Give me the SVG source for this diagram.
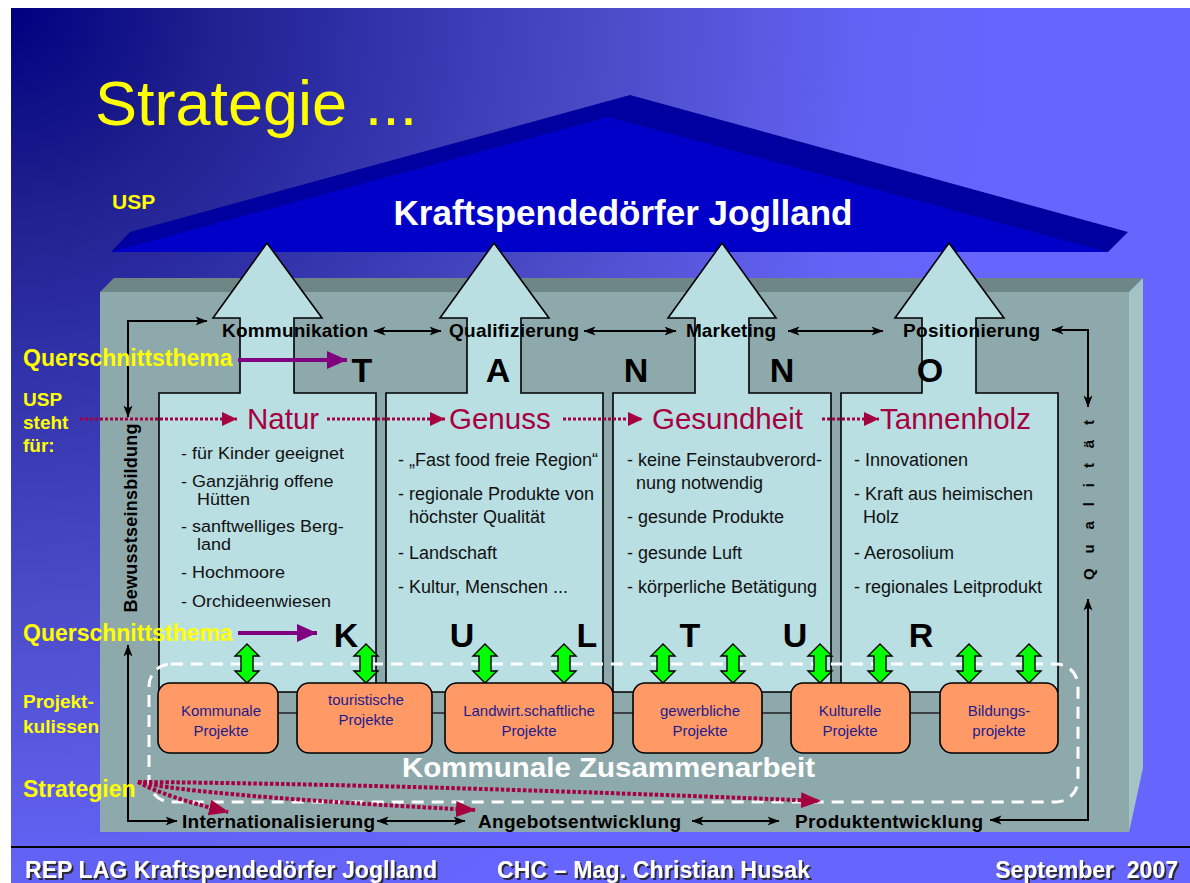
<svg xmlns="http://www.w3.org/2000/svg" width="1190" height="883" viewBox="0 0 1190 883">
<defs>
<radialGradient id="bg" gradientUnits="userSpaceOnUse" cx="11" cy="8" r="1000">
<stop offset="0" stop-color="#000080"/>
<stop offset="0.2" stop-color="#20208E"/>
<stop offset="0.35" stop-color="#3030A8"/>
<stop offset="0.6" stop-color="#4C4CC8"/>
<stop offset="0.85" stop-color="#6262F4"/>
<stop offset="1" stop-color="#6666FF"/>
</radialGradient>
<marker id="ab" viewBox="0 0 12 10" refX="11.5" refY="5" markerWidth="12" markerHeight="10" markerUnits="userSpaceOnUse" orient="auto-start-reverse"><path d="M0,0.5 L12,5 L0,9.5 L3,5 Z" fill="#000"/></marker>
<marker id="ar" viewBox="0 0 15 14" refX="15" refY="7" markerWidth="15" markerHeight="14" markerUnits="userSpaceOnUse" orient="auto"><path d="M0,0 L15,7 L0,14 Z" fill="#A50040"/></marker>
<marker id="as" viewBox="0 0 20 16" refX="19" refY="8" markerWidth="20" markerHeight="16" markerUnits="userSpaceOnUse" orient="auto"><path d="M0,0 L20,8 L0,16 Z" fill="#A50040"/></marker>
<marker id="ap" viewBox="0 0 20 18" refX="20" refY="9" markerWidth="20" markerHeight="18" markerUnits="userSpaceOnUse" orient="auto"><path d="M0,0 L20,9 L0,18 Z" fill="#800080"/></marker>
<path id="ga" d="M0,0 L12,12 L6,12 L6,27 L12,27 L0,39 L-12,27 L-6,27 L-6,12 L-12,12 Z"/>
<filter id="sh" x="-5%" y="-40%" width="110%" height="180%"><feDropShadow dx="2" dy="2" stdDeviation="0.6" flood-color="#202020" flood-opacity="0.9"/></filter>
</defs>
<style>
text{font-family:"Liberation Sans",Arial,sans-serif}
.col{fill:#B9DFE3;stroke:#000;stroke-width:1.6}
.li{font-size:18px;fill:#111}
.ln{font-size:16.5px;fill:#111}
.usp{font-size:29.5px;fill:#A50040}
.lab{font-size:19px;font-weight:bold;fill:#000}
.big{font-size:34px;font-weight:bold;fill:#000;text-anchor:middle}
.y{fill:#FFFF00;font-weight:bold}
.pb{fill:#FF9966;stroke:#000;stroke-width:1.6}
.pt{font-size:15px;fill:#1C1C8C;text-anchor:middle}
.k{fill:none;stroke:#000;stroke-width:2;marker-start:url(#ab);marker-end:url(#ab)}
.dr{fill:none;stroke:#A50040;stroke-width:3;stroke-dasharray:3 2;marker-end:url(#ar)}
.ds{fill:none;stroke:#A50040;stroke-width:4;stroke-dasharray:3.5 2;marker-end:url(#as)}
.pp{fill:none;stroke:#800080;stroke-width:4;marker-end:url(#ap)}
.g{fill:#00FF00;stroke:#000;stroke-width:1.4}
.ft{font-size:23px;font-weight:bold;fill:#fff;filter:url(#sh)}
</style>

<rect width="1190" height="883" fill="#fff"/>
<rect x="11" y="8" width="1179" height="875" fill="url(#bg)"/>

<g id="title"><text x="95" y="125" style="font-size:63px;fill:#FFFF00">Strategie ...</text></g>
<g id="usp-label"><text x="112" y="209" class="y" style="font-size:21px">USP</text></g>

<g id="roof">
<polygon points="111,252 130,232 630,95 1128,232 1108,252" fill="#0000A0"/>
<polygon points="111,252 608,117 1108,252" fill="#0000C8"/>
<text x="623" y="225" style="font-size:35px;font-weight:bold;fill:#fff;text-anchor:middle">Kraftspendedörfer Joglland</text>
</g>

<g id="base">
<polygon points="100,292 114,278 1143,278 1129,292" fill="#6F8686"/>
<polygon points="1129,292 1143,278 1143,768 1129,832" fill="#A3C3C7"/>
<rect x="100" y="292" width="1029" height="540" fill="#8EA9AB"/>
</g>

<g id="col-natur">
<polygon class="col" points="159,692 159,393 240,393 240,318 213,318 267,243 322,318 294,318 294,393 376,393 376,692"/>
<g transform="translate(181,0) scale(1.09,1)">
<text class="ln" x="0" y="459">- für Kinder geeignet</text>
<text class="ln" x="0" y="487">- Ganzjährig offene</text>
<text class="ln" x="14.7" y="505.5">Hütten</text>
<text class="ln" x="0" y="532">- sanftwelliges Berg-</text>
<text class="ln" x="14.7" y="550.5">land</text>
<text class="ln" x="0" y="578">- Hochmoore</text>
<text class="ln" x="0" y="607">- Orchideenwiesen</text>
</g>
</g>
<g id="col-genuss">
<polygon class="col" points="386,692 386,393 467,393 467,318 440,318 494,243 549,318 521,318 521,393 603,393 603,692"/>
<text class="li" x="398" y="466">- „Fast food freie Region“</text>
<text class="li" x="398" y="500">- regionale Produkte von</text>
<text class="li" x="409" y="523">höchster Qualität</text>
<text class="li" x="398" y="559">- Landschaft</text>
<text class="li" x="398" y="593">- Kultur, Menschen ...</text>
</g>
<g id="col-gesundheit">
<polygon class="col" points="613,692 613,393 695,393 695,318 668,318 722,243 776,318 749,318 749,393 831,393 831,692"/>
<text class="li" x="627" y="466">- keine Feinstaubverord-</text>
<text class="li" x="636" y="489">nung notwendig</text>
<text class="li" x="627" y="523">- gesunde Produkte</text>
<text class="li" x="627" y="559">- gesunde Luft</text>
<text class="li" x="627" y="593">- körperliche Betätigung</text>
</g>
<g id="col-tannenholz">
<polygon class="col" points="841,692 841,393 922,393 922,318 895,318 949,243 1004,318 976,318 976,393 1058,393 1058,692"/>
<text class="li" x="854" y="466">- Innovationen</text>
<text class="li" x="854" y="500">- Kraft aus heimischen</text>
<text class="li" x="863" y="523">Holz</text>
<text class="li" x="854" y="559">- Aerosolium</text>
<text class="li" x="854" y="593">- regionales Leitprodukt</text>
</g>

<g id="kommunale-zusammenarbeit">
<rect x="149" y="664" width="929" height="138" rx="22" fill="none" stroke="#fff" stroke-width="3" stroke-dasharray="12 8"/>
<text x="402" y="777" textLength="413" lengthAdjust="spacingAndGlyphs" style="font-size:27px;font-weight:bold;fill:#fff">Kommunale Zusammenarbeit</text>
</g>

<g id="connectors">
<line x1="278" y1="713" x2="940" y2="713" stroke="#222" stroke-width="1.5"/>
<path class="k" d="M128,417 V321 H207"/>
<path class="k" d="M128,645 V821 H177"/>
<path class="k" d="M1052,330 H1088 V407"/>
<path class="k" d="M1088,599 V820 H990"/>
<path class="k" d="M374,331 H441"/>
<path class="k" d="M584,331 H676"/>
<path class="k" d="M788,331 H883"/>
<path class="k" d="M377,821 H465"/>
<path class="k" d="M692,821 H779"/>
<path class="dr" d="M80,419 H237"/>
<path class="dr" d="M327,419 H445"/>
<path class="dr" d="M563,419 H643"/>
<path class="dr" d="M822,419 H879"/>
<path class="pp" d="M238,360 H347"/>
<path class="pp" d="M238,633 H317"/>
<path class="ds" d="M138,782 Q165,797 228,812"/>
<path class="ds" d="M138,782 Q200,796 475,810"/>
<path class="ds" d="M138,782 Q400,784 820,801"/>
<use href="#ga" x="247" y="644" class="g"/>
<use href="#ga" x="366" y="644" class="g"/>
<use href="#ga" x="485" y="644" class="g"/>
<use href="#ga" x="564" y="644" class="g"/>
<use href="#ga" x="663" y="644" class="g"/>
<use href="#ga" x="733" y="644" class="g"/>
<use href="#ga" x="820" y="644" class="g"/>
<use href="#ga" x="880" y="644" class="g"/>
<use href="#ga" x="969" y="644" class="g"/>
<use href="#ga" x="1029" y="644" class="g"/>
</g>

<g id="p-kommunale"><rect class="pb" x="158" y="683" width="120" height="70" rx="12"/><text class="pt" x="221" y="716">Kommunale</text><text class="pt" x="221" y="736">Projekte</text></g>
<g id="p-touristische"><rect class="pb" x="297" y="683" width="135" height="70" rx="12"/><text class="pt" x="366" y="705">touristische</text><text class="pt" x="366" y="725">Projekte</text></g>
<g id="p-landwirtschaftliche"><rect class="pb" x="445" y="683" width="168" height="70" rx="12"/><text class="pt" x="529" y="716">Landwirt.schaftliche</text><text class="pt" x="529" y="736">Projekte</text></g>
<g id="p-gewerbliche"><rect class="pb" x="633" y="683" width="129" height="70" rx="12"/><text class="pt" x="700" y="716">gewerbliche</text><text class="pt" x="700" y="736">Projekte</text></g>
<g id="p-kulturelle"><rect class="pb" x="791" y="683" width="119" height="70" rx="12"/><text class="pt" x="850" y="716">Kulturelle</text><text class="pt" x="850" y="736">Projekte</text></g>
<g id="p-bildung"><rect class="pb" x="940" y="683" width="118" height="70" rx="12"/><text class="pt" x="999" y="716">Bildungs-</text><text class="pt" x="999" y="736">projekte</text></g>

<g id="row-labels">
<text class="lab" x="222" y="337" textLength="146">Kommunikation</text>
<text class="lab" x="449" y="337" textLength="130">Qualifizierung</text>
<text class="lab" x="686" y="337" textLength="90">Marketing</text>
<text class="lab" x="903" y="337" textLength="137">Positionierung</text>
<text class="lab" x="182" y="828" textLength="193">Internationalisierung</text>
<text class="lab" x="478" y="828" textLength="203">Angebotsentwicklung</text>
<text class="lab" x="795" y="828" textLength="188">Produktentwicklung</text>
<text transform="translate(137,518) rotate(-90)" text-anchor="middle" textLength="189" style="font-size:18px;font-weight:bold">Bewusstseinsbildung</text>
<text transform="translate(1094,500) rotate(-90)" text-anchor="middle" textLength="160" style="font-size:15px;font-weight:bold">Q u a l i t ä t</text>
</g>

<g id="usp-words">
<text class="usp" x="247" y="429">Natur</text>
<text class="usp" x="449" y="429">Genuss</text>
<text class="usp" x="652" y="429">Gesundheit</text>
<text class="usp" x="880" y="429">Tannenholz</text>
</g>

<g id="tanno">
<text class="big" x="362" y="382">T</text>
<text class="big" x="498" y="382">A</text>
<text class="big" x="636" y="382">N</text>
<text class="big" x="782" y="382">N</text>
<text class="big" x="930" y="382">O</text>
</g>
<g id="kultur">
<text class="big" x="346" y="647">K</text>
<text class="big" x="462" y="647">U</text>
<text class="big" x="587" y="647">L</text>
<text class="big" x="690" y="647">T</text>
<text class="big" x="795" y="647">U</text>
<text class="big" x="921" y="647">R</text>
</g>

<g id="side-labels">
<text class="y" x="23" y="366" style="font-size:23px">Querschnittsthema</text>
<text class="y" x="23" y="406" style="font-size:19px">USP</text>
<text class="y" x="23" y="429" style="font-size:19px">steht</text>
<text class="y" x="23" y="452" style="font-size:19px">für:</text>
<text class="y" x="23" y="641" style="font-size:23px">Querschnittsthema</text>
<text class="y" x="23" y="708" style="font-size:19px">Projekt-</text>
<text class="y" x="23" y="733" style="font-size:19px">kulissen</text>
<text class="y" x="23" y="797" style="font-size:23px">Strategien</text>
</g>

<g id="footer">
<line x1="11" y1="847" x2="1190" y2="847" stroke="#000" stroke-width="2"/>
<text class="ft" x="25" y="878" textLength="412">REP LAG Kraftspendedörfer Joglland</text>
<text class="ft" x="497" y="878" textLength="313">CHC – Mag. Christian Husak</text>
<text class="ft" x="1178" y="878" text-anchor="end" style="white-space:pre">September  2007</text>
</g>
</svg>
